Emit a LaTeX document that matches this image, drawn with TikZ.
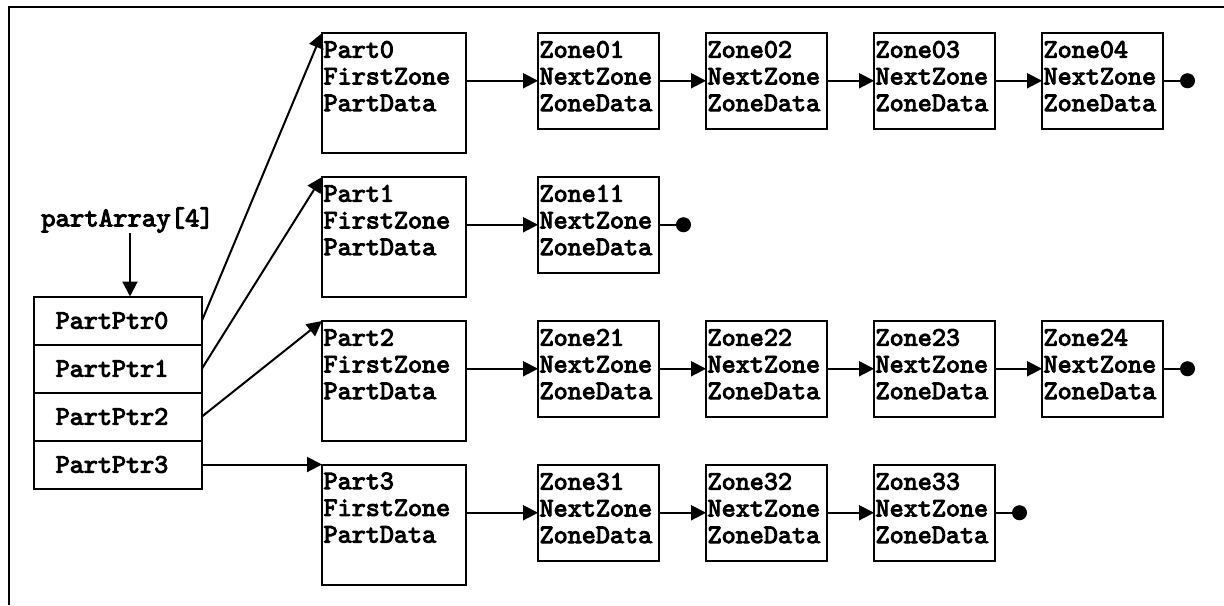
\documentclass[tikz,border=0pt]{standalone}
\usepackage{fontspec}
\newfontfamily\codefam{lmmono10-regular.otf}[FakeBold=3.6]
\usetikzlibrary{arrows.meta}
\newcommand{\codefont}{\fontsize{13.4}{13.35}\selectfont\codefam}
\begin{document}
\begin{tikzpicture}[x=0.5pt,y=-0.5pt,
  box/.style={draw, line width=1pt, rectangle, anchor=north west, inner sep=0pt, outer sep=0pt},
  partbox/.style={box, minimum width=72pt, minimum height=60pt},
  zonebox/.style={box, minimum width=60.25pt, minimum height=47.75pt},
  cell/.style={draw, line width=1pt, rectangle, inner sep=0pt, outer sep=0pt, minimum width=84pt, minimum height=24pt, font=\codefont, execute at end node={\hspace*{6pt}}},
  txt/.style={font=\codefont, align=left, anchor=north west, inner xsep=0.6pt, inner ysep=3.8pt},
  arr/.style={line width=1pt, -{Triangle[length=7.5pt,width=7.5pt]}},
  term/.style={line width=1pt, -{Circle[length=7.5pt,width=7.5pt]}},
  frame/.style={line width=0.9pt}
]
\useasboundingbox (0,0) rectangle (1224,605);
\draw[frame] (9,605) -- (9,7) -- (1224,7);

% pointer array
\node[cell, anchor=north west] (c0) at (34,296.5) {PartPtr0};
\node[cell, anchor=north] (c1) at (c0.south) {PartPtr1};
\node[cell, anchor=north] (c2) at (c1.south) {PartPtr2};
\node[cell, anchor=north] (c3) at (c2.south) {PartPtr3};
\node[font=\fontsize{13.7}{14}\selectfont\codefam, inner sep=0pt] (pa) at (127.5,220) {partArray[4]};
\draw[arr] (pa.south -| 130,0) -- (c0.north -| 130,0);

% parts
\node[partbox] (p0) at (322,33) {};
\node[partbox] (p1) at (322,177) {};
\node[partbox] (p2) at (322,321) {};
\node[partbox] (p3) at (322,464.5) {};
\node[txt] (p0t) at (p0.north west) {Part0\\FirstZone\\PartData};
\node[txt] (p1t) at (p1.north west) {Part1\\FirstZone\\PartData};
\node[txt] (p2t) at (p2.north west) {Part2\\FirstZone\\PartData};
\node[txt] (p3t) at (p3.north west) {Part3\\FirstZone\\PartData};

% zones row 0
\node[zonebox] (z01) at (538,33) {};
\node[zonebox] (z02) at (706,33) {};
\node[zonebox] (z03) at (874,33) {};
\node[zonebox] (z04) at (1042,33) {};
\node[txt] (z01t) at (z01.north west) {Zone01\\NextZone\\ZoneData};
\node[txt] (z02t) at (z02.north west) {Zone02\\NextZone\\ZoneData};
\node[txt] (z03t) at (z03.north west) {Zone03\\NextZone\\ZoneData};
\node[txt] (z04t) at (z04.north west) {Zone04\\NextZone\\ZoneData};
% row 1
\node[zonebox] (z11) at (538,177) {};
\node[txt] (z11t) at (z11.north west) {Zone11\\NextZone\\ZoneData};
% row 2
\node[zonebox] (z21) at (538,321) {};
\node[zonebox] (z22) at (706,321) {};
\node[zonebox] (z23) at (874,321) {};
\node[zonebox] (z24) at (1042,321) {};
\node[txt] (z21t) at (z21.north west) {Zone21\\NextZone\\ZoneData};
\node[txt] (z22t) at (z22.north west) {Zone22\\NextZone\\ZoneData};
\node[txt] (z23t) at (z23.north west) {Zone23\\NextZone\\ZoneData};
\node[txt] (z24t) at (z24.north west) {Zone24\\NextZone\\ZoneData};
% row 3
\node[zonebox] (z31) at (538,465) {};
\node[zonebox] (z32) at (706,465) {};
\node[zonebox] (z33) at (874,465) {};
\node[txt] (z31t) at (z31.north west) {Zone31\\NextZone\\ZoneData};
\node[txt] (z32t) at (z32.north west) {Zone32\\NextZone\\ZoneData};
\node[txt] (z33t) at (z33.north west) {Zone33\\NextZone\\ZoneData};

% pointer arrows
\draw[arr] (c0.east) -- (p0.north west);
\draw[arr] (c1.east) -- (p1.north west);
\draw[arr] (c2.east) -- (p2.north west);
\draw[arr] (c3.east) -- (p3.north west);

% part -> first zone
\draw[arr] (p0.east |- z01.west) -- (z01.west);
\draw[arr] (p1.east |- z11.west) -- (z11.west);
\draw[arr] (p2.east |- z21.west) -- (z21.west);
\draw[arr] (p3.east |- z31.west) -- (z31.west);

% zone chains
\draw[arr] (z01.east) -- (z02.west);
\draw[arr] (z02.east) -- (z03.west);
\draw[arr] (z03.east) -- (z04.west);
\draw[arr] (z21.east) -- (z22.west);
\draw[arr] (z22.east) -- (z23.west);
\draw[arr] (z23.east) -- (z24.west);
\draw[arr] (z31.east) -- (z32.west);
\draw[arr] (z32.east) -- (z33.west);

% terminators
\path (z04.east) ++(32.5,0) coordinate (e0);
\path (z11.east) ++(32.5,0) coordinate (e1);
\path (z24.east) ++(32.5,0) coordinate (e2);
\path (z33.east) ++(32.5,0) coordinate (e3);
\draw[term] (z04.east) -- (e0);
\draw[term] (z11.east) -- (e1);
\draw[term] (z24.east) -- (e2);
\draw[term] (z33.east) -- (e3);
\end{tikzpicture}
\end{document}
